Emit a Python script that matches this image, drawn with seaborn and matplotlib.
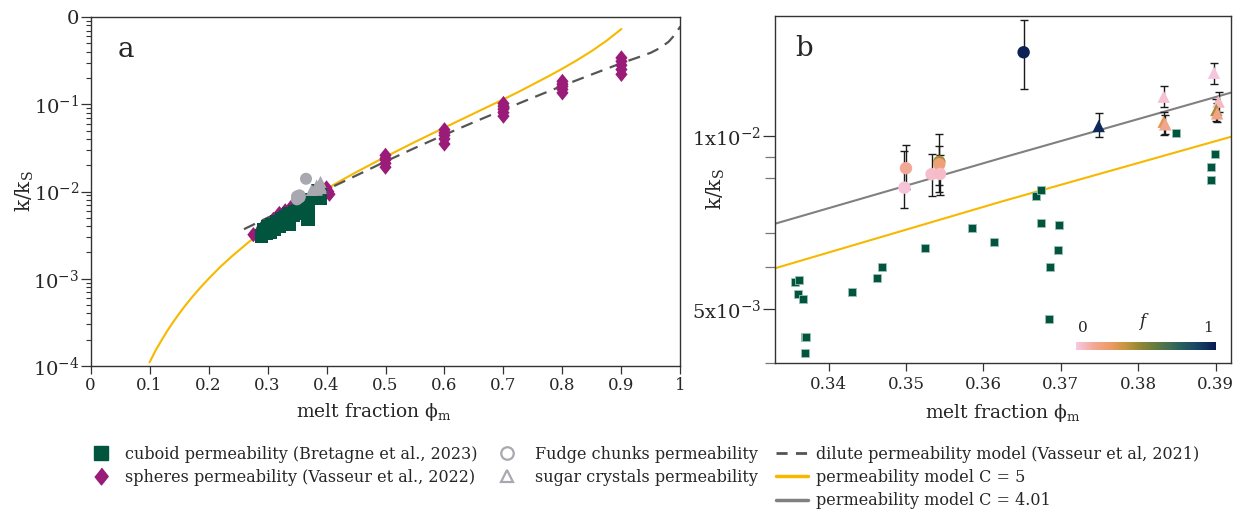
import numpy as np
import pandas as pd
import matplotlib
matplotlib.use("Agg")
import matplotlib.pyplot as plt
import seaborn as sns
from matplotlib.colors import LinearSegmentedColormap, Normalize
from matplotlib.lines import Line2D
from matplotlib.ticker import FixedLocator, NullFormatter, LogLocator
import matplotlib.colorbar as mcolorbar

sns.set_style("ticks")
plt.rcParams['font.family'] = ['DejaVu Serif', 'DejaVu Sans']
plt.rcParams['mathtext.fontset'] = 'dejavuserif'

# ---------------- data ----------------
cuboid_phi = [0.290, 0.293, 0.297, 0.300, 0.304, 0.308, 0.312, 0.316, 0.320, 0.324, 0.328, 0.331,
              0.3356, 0.3362, 0.3360, 0.3367, 0.3369, 0.3371, 0.3370, 0.3430, 0.3462, 0.3469,
              0.3524, 0.3585, 0.3614, 0.3668, 0.3674, 0.3675, 0.3698, 0.3696, 0.3686, 0.3685,
              0.3849, 0.3899, 0.3894, 0.3894]
cuboid_k = [0.0031, 0.0036, 0.0033, 0.0039, 0.0034, 0.0042, 0.0037, 0.0045, 0.0040, 0.0049, 0.0044, 0.0052,
            0.00558, 0.00561, 0.00530, 0.00520, 0.00447, 0.00447, 0.00419, 0.00534, 0.00565, 0.00591,
            0.00639, 0.00692, 0.00654, 0.00787, 0.00804, 0.00706, 0.00700, 0.00634, 0.00591, 0.00480,
            0.01013, 0.00929, 0.00884, 0.00840]

sphere_phi = [0.276, 0.290, 0.300, 0.310, 0.320, 0.330, 0.340, 0.360, 0.380, 0.390, 0.400, 0.403, 0.405,
              0.5, 0.5, 0.5, 0.5, 0.5,
              0.6, 0.6, 0.6, 0.6, 0.6,
              0.7, 0.7, 0.7, 0.7, 0.7,
              0.8, 0.8, 0.8, 0.8, 0.8,
              0.9, 0.9, 0.9, 0.9, 0.9]
sphere_k = [0.0032, 0.0038, 0.0042, 0.0048, 0.0056, 0.0060, 0.0066, 0.0076, 0.0090, 0.0098, 0.0110, 0.0100, 0.0093,
            0.019, 0.021, 0.023, 0.024, 0.026,
            0.035, 0.040, 0.044, 0.047, 0.051,
            0.073, 0.080, 0.088, 0.095, 0.102,
            0.135, 0.148, 0.160, 0.170, 0.183,
            0.22, 0.25, 0.28, 0.31, 0.34]

# Fudge chunks (circles)
fudge_phi = [0.3498, 0.3500, 0.3533, 0.3543, 0.3543, 0.3544, 0.3652]
fudge_k = [0.00813, 0.00879, 0.00858, 0.00902, 0.00893, 0.00859, 0.01399]
fudge_f = [0.02, 0.13, 0.04, 0.42, 0.20, 0.05, 0.98]
fudge_lo = [0.00748, 0.00810, 0.00786, 0.00822, 0.00800, 0.00789, 0.01206]
fudge_hi = [0.00943, 0.00964, 0.00929, 0.01008, 0.00961, 0.00928, 0.01592]

# Sugar crystals (triangles)
sugar_phi = [0.3749, 0.3833, 0.3833, 0.3835, 0.3898, 0.3904, 0.3901, 0.3902]
sugar_k = [0.01041, 0.01171, 0.01059, 0.01048, 0.01289, 0.01148, 0.01110, 0.01095]
sugar_f = [0.95, 0.03, 0.28, 0.15, 0.01, 0.06, 0.42, 0.17]
sugar_lo = [0.00995, 0.01122, 0.01004, 0.01010, 0.01232, 0.01100, 0.01060, 0.01057]
sugar_hi = [0.01095, 0.01224, 0.01102, 0.01090, 0.01342, 0.01195, 0.01160, 0.01140]

# model curves
model5_phi = [0.100, 0.110, 0.120, 0.130, 0.140, 0.150, 0.160, 0.170, 0.180, 0.190, 0.200, 0.220,
              0.240, 0.270, 0.300, 0.330, 0.350, 0.375, 0.400, 0.425, 0.450, 0.475, 0.500, 0.525,
              0.550, 0.575, 0.600, 0.625, 0.650, 0.675, 0.700, 0.725, 0.750, 0.775, 0.800, 0.825,
              0.850, 0.875, 0.900]
model5_k = [1.10e-4, 1.50e-4, 1.96e-4, 2.53e-4, 3.19e-4, 3.97e-4, 4.88e-4, 5.92e-4, 7.11e-4, 8.47e-4,
            1.00e-3, 1.37e-3, 1.82e-3, 2.70e-3, 3.86e-3, 5.36e-3, 6.60e-3, 8.44e-3, 1.07e-2, 1.34e-2,
            1.66e-2, 2.04e-2, 2.50e-2, 3.04e-2, 3.70e-2, 4.47e-2, 5.40e-2, 6.51e-2, 7.85e-2, 9.46e-2,
            0.114, 0.138, 0.169, 0.207, 0.256, 0.321, 0.409, 0.536, 0.729]
dilute_phi = [0.26, 0.30, 0.35, 0.40, 0.45, 0.50, 0.55, 0.60, 0.65, 0.70, 0.75, 0.80, 0.85, 0.90, 0.93,
              0.95, 0.965, 0.98, 0.99, 1.00]
dilute_k = [0.0037, 0.0050, 0.00723, 0.0105, 0.0152, 0.0221, 0.0316, 0.0447, 0.0624, 0.0865, 0.119, 0.163,
            0.22, 0.296, 0.348, 0.39, 0.44, 0.52, 0.62, 0.78]
# model curves
b_model5_phi = [0.333, 0.3625, 0.392]
b_model5_k = [0.00588, 0.00770, 0.00997]
b_model401_phi = [0.333, 0.3625, 0.392]
b_model401_k = [0.00703, 0.00917, 0.01190]

a_yticks = [1e-4, 1e-3, 1e-2, 1e-1, 1]
a_yticklabels = [r'$\mathregular{10^{-4}}$', r'$\mathregular{10^{-3}}$', r'$\mathregular{10^{-2}}$',
                 r'$\mathregular{10^{-1}}$', '0']
a_xticks = [0, 0.1, 0.2, 0.3, 0.4, 0.5, 0.6, 0.7, 0.8, 0.9, 1]
a_xticklabels = ['0', '0.1', '0.2', '0.3', '0.4', '0.5', '0.6', '0.7', '0.8', '0.9', '1']
b_xticks = [0.34, 0.35, 0.36, 0.37, 0.38, 0.39]
b_xticklabels = ['0.34', '0.35', '0.36', '0.37', '0.38', '0.39']
b_yticks = [0.005, 0.01]
b_yticklabels = [r'$\mathregular{5x10^{-3}}$', r'$\mathregular{1x10^{-2}}$']
b_yminor = [0.00402, 0.00591, 0.00679, 0.00846, 0.00920]

GREEN = '#01543E'
PURPLE = '#9A1B78'
GREYM = '#A9A7B0'
YELLOW = '#F7B800'
GREYL = '#808080'
DASH = '#555555'
cmap = LinearSegmentedColormap.from_list('batlow_r', [
    (0.0, '#F6C8E4'), (0.12, '#F3A99A'), (0.25, '#EB9A62'), (0.35, '#C79540'),
    (0.45, '#968833'), (0.55, '#6C7D3C'), (0.65, '#46704F'), (0.75, '#2A5E5D'),
    (0.85, '#194963'), (0.93, '#10325E'), (1.0, '#0C1A52')])
norm = Normalize(0, 1)

diamond = [(0, 0.5), (0.4, 0), (0, -0.5), (-0.4, 0)]

fig = plt.figure(figsize=(12.48, 5.09), dpi=100)
ax_a = fig.add_axes([0.07260, 0.28094, 0.47260, 0.68566])
ax_b = fig.add_axes([0.62091, 0.28625, 0.36579, 0.68291])

# ---------------- panel a ----------------
sns.lineplot(x=model5_phi, y=model5_k, color=YELLOW, lw=1.5, sort=False, estimator=None, ax=ax_a, zorder=1)
sns.lineplot(x=dilute_phi, y=dilute_k, color=DASH, lw=1.6, linestyle=(0, (5.5, 3.5)), sort=False,
             estimator=None, ax=ax_a, zorder=1)
sns.scatterplot(x=sphere_phi, y=sphere_k, marker=diamond, s=120, color=PURPLE, edgecolor='none',
                linewidth=0, ax=ax_a, zorder=3)
sns.scatterplot(x=cuboid_phi, y=cuboid_k, marker='s', s=95, color=GREEN, edgecolor='none',
                linewidth=0, ax=ax_a, zorder=4)
sns.scatterplot(x=fudge_phi, y=fudge_k, marker='o', s=75, color=GREYM, edgecolor='none',
                linewidth=0, ax=ax_a, zorder=5)
sns.scatterplot(x=sugar_phi, y=sugar_k, marker='^', s=75, color=GREYM, edgecolor='none',
                linewidth=0, ax=ax_a, zorder=5)

ax_a.set_yscale('log')
ax_a.set_xlim(0, 1)
ax_a.set_ylim(1e-4, 1)
ax_a.set_xticks(a_xticks)
ax_a.set_xticklabels(a_xticklabels)
ax_a.yaxis.set_major_locator(FixedLocator(a_yticks))
ax_a.set_yticklabels(a_yticklabels)
ax_a.yaxis.set_minor_locator(LogLocator(base=10, subs=np.arange(2, 10)))
ax_a.yaxis.set_minor_formatter(NullFormatter())
ax_a.tick_params(axis='x', which='major', direction='out', length=6, width=0.9, labelsize=12, pad=2, color='#333333')
ax_a.tick_params(axis='y', which='major', direction='out', length=7, width=0.9, labelsize=14, pad=1, color='#333333')
ax_a.tick_params(axis='y', which='minor', direction='out', length=3.5, width=0.8, color='#333333')
ax_a.set_xlabel('melt fraction ϕ$_\\mathregular{m}$', fontsize=13.5)
ax_a.set_ylabel('k/k$_\\mathregular{S}$', fontsize=14.5)
ax_a.xaxis.set_label_coords(0.481, -0.10)
ax_a.yaxis.set_label_coords(-0.0926, 0.5)
ax_a.text(0.045, 0.945, 'a', transform=ax_a.transAxes, fontsize=20, va='top', ha='left')
for sp in ax_a.spines.values():
    sp.set_visible(True)
    sp.set_linewidth(1.0)
    sp.set_color('#333333')

# ---------------- panel b ----------------
sns.lineplot(x=b_model401_phi, y=b_model401_k, color=GREYL, lw=1.5, sort=False, estimator=None, ax=ax_b, zorder=1)
sns.lineplot(x=b_model5_phi, y=b_model5_k, color=YELLOW, lw=1.5, sort=False, estimator=None, ax=ax_b, zorder=1)
sns.scatterplot(x=cuboid_phi, y=cuboid_k, marker='s', s=30, color=GREEN, edgecolor='#9CC2B4',
                linewidth=0.6, ax=ax_b, zorder=3)
f_err = np.array(fudge_k)
ax_b.errorbar(fudge_phi, fudge_k, yerr=[f_err - np.array(fudge_lo), np.array(fudge_hi) - f_err],
              fmt='none', ecolor='#1a1a1a', elinewidth=1.0, capsize=3, capthick=1.0, zorder=4)
s_err = np.array(sugar_k)
ax_b.errorbar(sugar_phi, sugar_k, yerr=[s_err - np.array(sugar_lo), np.array(sugar_hi) - s_err],
              fmt='none', ecolor='#1a1a1a', elinewidth=1.0, capsize=3, capthick=1.0, zorder=4)
sns.scatterplot(x=fudge_phi, y=fudge_k, hue=fudge_f, palette=cmap, hue_norm=norm, marker='o', s=80,
                edgecolor='none', linewidth=0, legend=False, ax=ax_b, zorder=5)
sns.scatterplot(x=sugar_phi, y=sugar_k, hue=sugar_f, palette=cmap, hue_norm=norm, marker='^', s=80,
                edgecolor='none', linewidth=0, legend=False, ax=ax_b, zorder=5)

ax_b.set_yscale('log')
ax_b.set_xlim(0.33306, 0.39205)
ax_b.set_ylim(0.00402, 0.0162)
ax_b.set_xticks(b_xticks)
ax_b.set_xticklabels(b_xticklabels)
ax_b.yaxis.set_major_locator(FixedLocator(b_yticks))
ax_b.set_yticklabels(b_yticklabels)
ax_b.yaxis.set_minor_locator(FixedLocator(b_yminor))
ax_b.yaxis.set_minor_formatter(NullFormatter())
ax_b.tick_params(axis='x', which='major', direction='out', length=6, width=0.9, labelsize=12, pad=3, color='#333333')
ax_b.tick_params(axis='y', which='major', direction='out', length=9, width=0.9, labelsize=14, pad=1, color='#333333')
ax_b.tick_params(axis='y', which='minor', direction='out', length=7, width=0.9, color='#777777')
ax_b.set_xlabel('melt fraction ϕ$_\\mathregular{m}$', fontsize=13.5)
ax_b.set_ylabel('k/k$_\\mathregular{S}$', fontsize=14.5)
ax_b.xaxis.set_label_coords(0.5, -0.11)
ax_b.yaxis.set_label_coords(-0.105, 0.5)
ax_b.text(0.045, 0.945, 'b', transform=ax_b.transAxes, fontsize=20, va='top', ha='left')
for sp in ax_b.spines.values():
    sp.set_visible(True)
    sp.set_linewidth(1.0)
    sp.set_color('#333333')

# colorbar inset
cax = fig.add_axes([1076 / 1248, 1 - 350 / 509, 140 / 1248, 8.3 / 509])
cb = mcolorbar.ColorbarBase(cax, cmap=cmap, norm=norm, orientation='horizontal')
cb.set_ticks([])
cb.outline.set_visible(False)
fig.text(1083 / 1248, 1 - 328 / 509, '0', fontsize=11, ha='center', va='center')
fig.text(1208 / 1248, 1 - 328 / 509, '1', fontsize=11, ha='center', va='center')
fig.text(1142 / 1248, 1 - 321 / 509, 'f', fontsize=12, style='italic', ha='center', va='center')

# legend (three columns)
base_kw = dict(loc='upper left', frameon=False, borderpad=0, borderaxespad=0, fontsize=11.5,
               labelspacing=0.38)
h1 = [Line2D([], [], marker='s', color=GREEN, linestyle='none', markersize=9.5),
      Line2D([], [], marker=diamond, color=PURPLE, linestyle='none', markersize=12)]
l1 = ['cuboid permeability (Bretagne et al., 2023)', 'spheres permeability (Vasseur et al., 2022)']
h2 = [Line2D([], [], marker='o', markerfacecolor='none', markeredgecolor=GREYM, markeredgewidth=1.6,
             linestyle='none', markersize=9),
      Line2D([], [], marker='^', markerfacecolor='none', markeredgecolor=GREYM, markeredgewidth=1.6,
             linestyle='none', markersize=9)]
l2 = ['Fudge chunks permeability', 'sugar crystals permeability']
h3 = [Line2D([], [], color=DASH, lw=2, linestyle=(0, (4, 3))),
      Line2D([], [], color=YELLOW, lw=2.5),
      Line2D([], [], color=GREYL, lw=2.5)]
l3 = ['dilute permeability model (Vasseur et al, 2021)', 'permeability model C = 5', 'permeability model C = 4.01']
top = 1 - 446 / 509
fig.legend(h1, l1, bbox_to_anchor=(88 / 1248, top), handlelength=1.6, handletextpad=0.7, **base_kw)
fig.legend(h2, l2, bbox_to_anchor=(494 / 1248, top), handlelength=1.6, handletextpad=0.95, **base_kw)
fig.legend(h3, l3, bbox_to_anchor=(776 / 1248, top), handlelength=2.0, handletextpad=0.5, **base_kw)

fig.savefig('out.png', dpi=100)
